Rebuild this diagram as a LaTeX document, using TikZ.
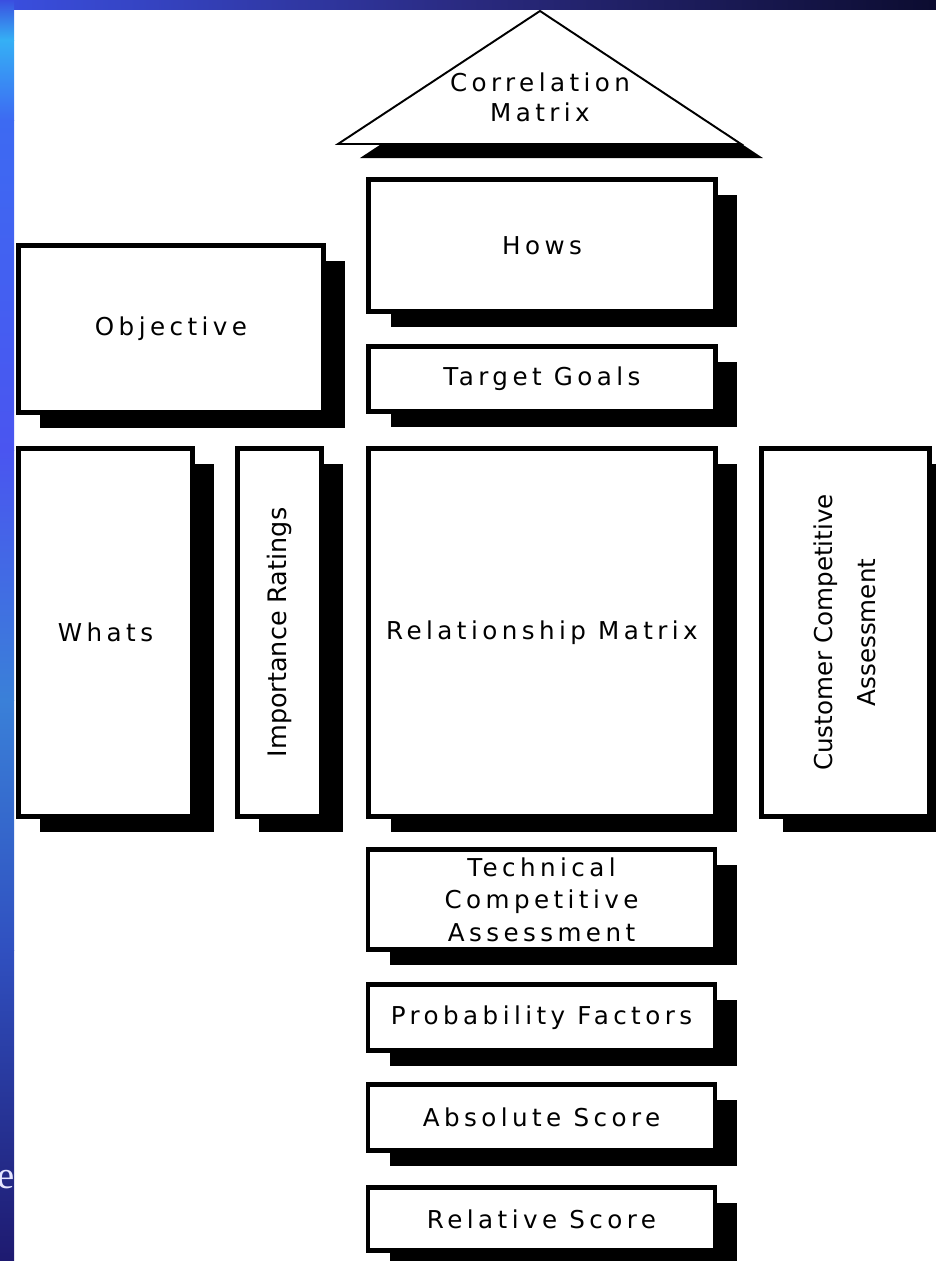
\documentclass[tikz,border=0pt]{standalone}
\usepackage{fontspec}
\setmainfont{DejaVu Sans}
\newfontfamily\qfdfont{DejaVu Sans}[LetterSpace=18]
\newfontfamily\sidefont{DejaVu Sans}
\newfontfamily\slidefont{Liberation Serif}
\usetikzlibrary{shadows,positioning}

\definecolor{stripA}{HTML}{3A4FE0}
\definecolor{stripB}{HTML}{35B0F5}
\definecolor{stripC}{HTML}{3D6AF2}
\definecolor{stripD}{HTML}{4A55F0}
\definecolor{stripE}{HTML}{3A80D8}
\definecolor{stripF}{HTML}{3050C0}
\definecolor{stripG}{HTML}{1E1A70}
\definecolor{topmid}{HTML}{2A2A80}
\definecolor{topend}{HTML}{0C0C30}

\begin{document}
\begin{tikzpicture}[x=0.02cm,y=-0.02cm,
    block/.style={draw=black, line width=2.4pt, fill=white, inner sep=0pt, align=center,
        font=\qfdfont\fontsize{14}{18.5}\selectfont,
        general shadow={fill=black, shadow xshift=12.5pt, shadow yshift=-9pt}},
    tri/.style={draw=black, line width=1.1pt, fill=white,
        general shadow={fill=black, shadow xshift=12.5pt, shadow yshift=-8pt}}]
    \useasboundingbox (0,0) rectangle (936,1261);

    % slide background
    \fill[white] (0,0) rectangle (936,1261);
    \shade[left color=stripA, right color=topend, middle color=topmid] (0,0) rectangle (936,9);
    \shade[top color=stripA, bottom color=stripB] (0,0) rectangle (14,40);
    \shade[top color=stripB, bottom color=stripC] (0,40) rectangle (14,120);
    \shade[top color=stripC, bottom color=stripD] (0,120) rectangle (14,450);
    \shade[top color=stripD, bottom color=stripE] (0,450) rectangle (14,700);
    \shade[top color=stripE, bottom color=stripF] (0,700) rectangle (14,950);
    \shade[top color=stripF, bottom color=stripG] (0,950) rectangle (14,1261);
    \node[font=\slidefont\fontsize{22}{22}\selectfont, text=blue!10, anchor=east, inner sep=0pt] (slidee) at (15,1180) {e};

    % roof
    \coordinate (apex) at (540,11);
    \coordinate (roofl) at (338,144);
    \coordinate (roofr) at (741,144);
    \draw[tri] (roofl) -- (apex) -- (roofr) -- cycle;
    \node[font=\qfdfont\fontsize{14}{17}\selectfont, align=center] (corr) at (540,97) {Correlation\\Matrix};

    % house of quality blocks
    \node[block, minimum width=6.94cm, minimum height=2.64cm] (hows) at (542,245.5) {Hows};
    \node[block, minimum width=6.1cm, minimum height=3.34cm] (objective) at (171,329) {Objective};
    \node[block, minimum width=6.94cm, minimum height=1.3cm] (goals) at (542,379) {Target Goals};
    \node[block, minimum width=3.48cm, minimum height=7.36cm] (whats) at (105.5,632.5) {Whats};
    \node[block, minimum width=1.68cm, minimum height=7.36cm] (ratings) at (279.5,632.5)
        {\rotatebox{90}{\sidefont\fontsize{14.5}{24}\selectfont Importance Ratings}};
    \node[block, minimum width=6.94cm, minimum height=7.36cm] (relation) at (542,632.5) {Relationship Matrix};
    \node[block, minimum width=3.36cm, minimum height=7.36cm] (customer) at (845.5,632.5)
        {\rotatebox{90}{\sidefont\fontsize{14}{24}\selectfont
         \begin{tabular}{@{}c@{}}Customer Competitive\\[0.5pt] Assessment\end{tabular}}};
    \node[block, minimum width=6.94cm, minimum height=2.0cm] (technical) at (541.5,899.5)
        {Technical\\Competitive\\Assessment};
    \node[block, minimum width=6.94cm, minimum height=1.32cm] (prob) at (541.5,1017.5) {Probability Factors};
    \node[block, minimum width=6.94cm, minimum height=1.32cm] (absolute) at (541.5,1117.5) {Absolute Score};
    \node[block, minimum width=6.94cm, minimum height=1.26cm] (relative) at (541.5,1219) {Relative Score};
\end{tikzpicture}
\end{document}
